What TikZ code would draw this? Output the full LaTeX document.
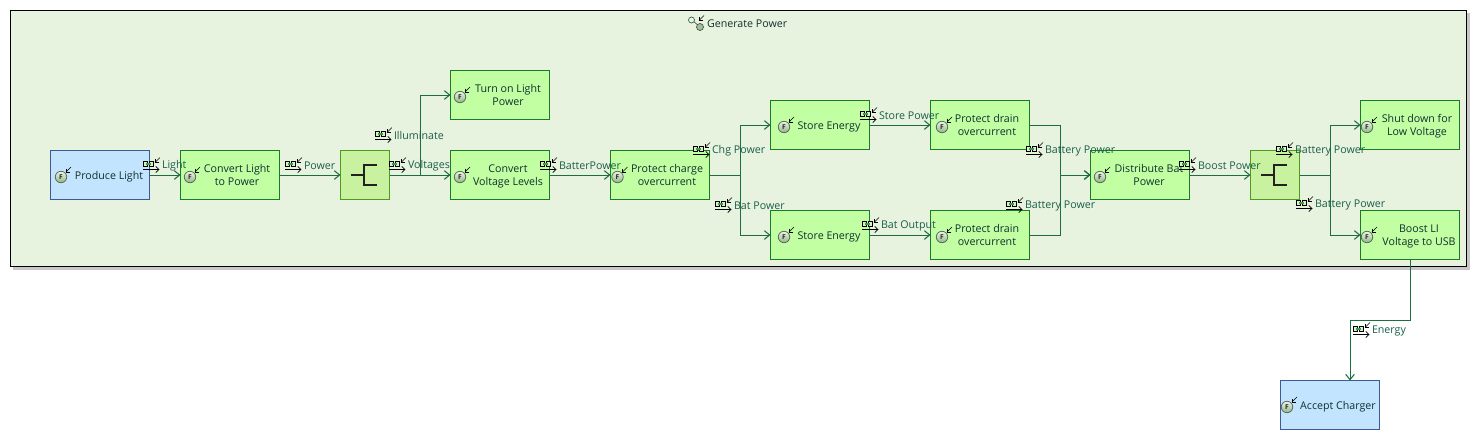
\documentclass[tikz,border=0pt]{standalone}
\usepackage{fontspec}
\setmainfont{Open Sans}
\usetikzlibrary{arrows.meta,calc}
\definecolor{linecol}{HTML}{1C6E40}
\definecolor{flowtxt}{HTML}{1A5E4A}
\definecolor{boxtxt}{HTML}{10302F}
\definecolor{contfill}{HTML}{E8F3DF}
\definecolor{fnfill}{HTML}{C1FFA2}
\definecolor{fnline}{HTML}{1A7A2A}
\definecolor{extfill}{HTML}{C3E4FF}
\definecolor{extline}{HTML}{3C5A96}
\definecolor{forkfill}{HTML}{C9F2A0}
\definecolor{forkline}{HTML}{4C9A24}
\definecolor{forkink}{HTML}{222222}
\definecolor{iconrim}{HTML}{5A6A5A}
\definecolor{iconlight}{HTML}{EEF5E6}
\definecolor{icondark}{HTML}{8FB585}
\definecolor{markfill}{HTML}{D8F2C8}
\definecolor{markbar}{HTML}{3F9A4A}
\newlength{\uu}\setlength{\uu}{0.75pt}
\tikzset{
  x=0.75pt,y=-0.75pt,
  every node/.style={font=\fontsize{8}{9.75}\selectfont,inner sep=0pt,outer sep=0pt},
  fnbox/.style={draw=fnline,fill=fnfill,line width=0.75pt,minimum width=74.25pt,minimum height=36.75pt,text=boxtxt},
  extbox/.style={fnbox,draw=extline,fill=extfill},
  forkbox/.style={draw=forkline,fill=forkfill,line width=0.75pt,minimum width=36.75pt,minimum height=36.75pt},
  forkbar/.style={draw=forkink,line width=2.2pt,line cap=butt,line join=miter},
  conn/.style={draw=linecol,line width=0.7pt,-{Straight Barb[length=4pt,width=6.5pt,line width=0.8pt]}},
  flowlab/.style={anchor=west,text=flowtxt},
  marker/.style={draw=black,line width=0.55pt,-{Straight Barb[length=2.4pt,width=4.6pt,line width=0.55pt]}},
  ficonnode/.style={circle,draw=iconrim,line width=0.6pt,minimum size=8.6pt,top color=iconlight,bottom color=icondark,font=\fontsize{5}{5}\selectfont\bfseries,text=black!85},
}
\newcommand{\fnt}[2]{\hspace*{#1\dimexpr2\uu\relax}\raisebox{-1.1pt}[\height][\depth]{\begin{tabular}{@{}c@{}}#2\end{tabular}}}
\newcommand{\refarrow}[2]{\draw[black,line width=0.5pt] (#1+5,#2-5) -- (#1,#2);
  \draw[black,line width=0.5pt] (#1,#2-3.5) -- (#1,#2) -- (#1+3.5,#2);}
\newcommand{\ficon}[3]{\node[ficonnode] (ic#1) at (#2,#3) {F};\refarrow{#2+5}{#3-5}}
% \flowmark{name}{x}{y}{text}
\newcommand{\flowmark}[4]{%
  \draw[black,line width=0.45pt,fill=markfill] (#2,#3-4) rectangle (#2+4,#3+1.5);
  \draw[black,line width=0.45pt,fill=markfill] (#2+6.5,#3-4) rectangle (#2+10.5,#3+1.5);
  \draw[markbar,line width=1.5pt] (#2+2.5,#3-1.2) -- (#2+8,#3-1.2);
  \refarrow{#2+12}{#3-2.5}
  \draw[marker] (#2,#3+4.5) -- (#2+16.5,#3+4.5);
  \node[flowlab] (#1) at (#2+19,#3+0.7) {#4};}
\begin{document}
\begin{tikzpicture}
\useasboundingbox (0,0) rectangle (1479,440);
\fill[white] (0,0) rectangle (1479,440);
% container
\fill[black!22] (13,13) rectangle (1469.5,269.5);
\node[draw=black,fill=contfill,line width=0.75pt,minimum width=1092pt,minimum height=192pt] (cont) at (738.5,138.5) {};
\node[anchor=west,text=boxtxt] (title) at (707,23.7) {Generate Power};
\draw[black!70,line width=0.5pt] (692,20) -- (700,27);
\draw[black!70,line width=0.5pt,fill=green!15] (691.5,20) circle (3);
\draw[black!70,line width=0.5pt,fill=green!40!black!40] (700,27) circle (3.5);
\refarrow{699}{20.5}
% boxes
\node[extbox] (pl) at (100,175) {\fnt{9}{Produce Light}};
\node[fnbox] (cl) at (230,175) {\fnt{7}{Convert Light\\to Power}};
\node[forkbox] (fa) at (365,175) {};
\node[fnbox] (to) at (500,95) {\fnt{8}{Turn on Light\\Power}};
\node[fnbox] (cv) at (500,175) {\fnt{8}{Convert\\Voltage Levels}};
\node[fnbox] (pc) at (660,175) {\fnt{7}{Protect charge\\overcurrent}};
\node[fnbox] (se) at (820,125) {\fnt{9}{Store Energy}};
\node[fnbox] (sb) at (820,235) {\fnt{9}{Store Energy}};
\node[fnbox] (pa) at (980,125) {\fnt{7}{Protect drain\\overcurrent}};
\node[fnbox] (pb) at (980,235) {\fnt{7}{Protect drain\\overcurrent}};
\node[fnbox] (db) at (1140,175) {\fnt{9}{Distribute Bat\\Power}};
\node[forkbox] (fb) at (1275,175) {};
\node[fnbox] (sd) at (1410,125) {\fnt{7}{Shut down for\\Low Voltage}};
\node[fnbox] (bl) at (1410,235) {\fnt{9}{Boost LI\\Voltage to USB}};
\node[extbox] (ac) at (1330,405) {\fnt{8}{Accept Charger}};
% fork glyphs
\draw[forkbar] (351,175) -- (364,175);
\draw[forkbar] (377,165) -- (364,165) -- (364,185) -- (377,185);
\draw[forkbar] (1261,175) -- (1274,175);
\draw[forkbar] (1287,165) -- (1274,165) -- (1274,185) -- (1287,185);
% junction coordinates
\coordinate (j1) at (420,175);
\coordinate (j2) at (740,175);
\coordinate (j3) at (1060,175);
\coordinate (j4) at (1330,175);
\coordinate (j5) at (1410,320);
\coordinate (j6) at (1350,320);
% connectors
\draw[conn] (pl.east) -- (cl.west);
\draw[conn] (cl.east) -- (fa.west);
\draw[conn] (fa.east) -- (cv.west);
\draw[conn] (fa.east) -- (j1) |- (to.west);
\draw[conn] (cv.east) -- (pc.west);
\draw[conn] (pc.east) -- (j2) |- (se.west);
\draw[conn] (pc.east) -- (j2) |- (sb.west);
\draw[conn] (se.east) -- (pa.west);
\draw[conn] (sb.east) -- (pb.west);
\draw[conn] (pa.east) -| (j3) -- (db.west);
\draw[conn] (pb.east) -| (j3) -- (db.west);
\draw[conn] (db.east) -- (fb.west);
\draw[conn] (fb.east) -- (j4) |- (sd.west);
\draw[conn] (fb.east) -- (j4) |- (bl.west);
\draw[conn] (bl.south) -- (j5) -- (j6) -- (j6 |- ac.north);
% function icons
\ficon{a}{61}{177}
\ficon{b}{190}{177}
\ficon{c}{460}{97}
\ficon{d}{460}{177}
\ficon{e}{617.5}{177}
\ficon{f}{784}{127}
\ficon{g}{784}{237}
\ficon{h}{942}{127}
\ficon{i}{942}{237}
\ficon{j}{1100}{177}
\ficon{k}{1367}{127}
\ficon{l}{1367}{237}
\ficon{m}{1287}{407}
% flow labels
\flowmark{f1}{143}{165}{Light}
\flowmark{f2}{285}{165}{Power}
\flowmark{f3}{375}{135}{Illuminate}
\flowmark{f4}{389}{165}{Voltages}
\flowmark{f5}{540}{165}{BatterPower}
\flowmark{f6}{693}{150}{Chg Power}
\flowmark{f7}{715}{205}{Bat Power}
\flowmark{f8}{860}{115}{Store Power}
\flowmark{f9}{862}{225}{Bat Output}
\flowmark{f10}{1026}{150}{Battery Power}
\flowmark{f11}{1006}{205}{Battery Power}
\flowmark{f12}{1179}{165}{Boost Power}
\flowmark{f13}{1276}{150}{Battery Power}
\flowmark{f14}{1296}{204}{Battery Power}
\flowmark{f15}{1353}{330}{Energy}
\end{tikzpicture}
\end{document}
